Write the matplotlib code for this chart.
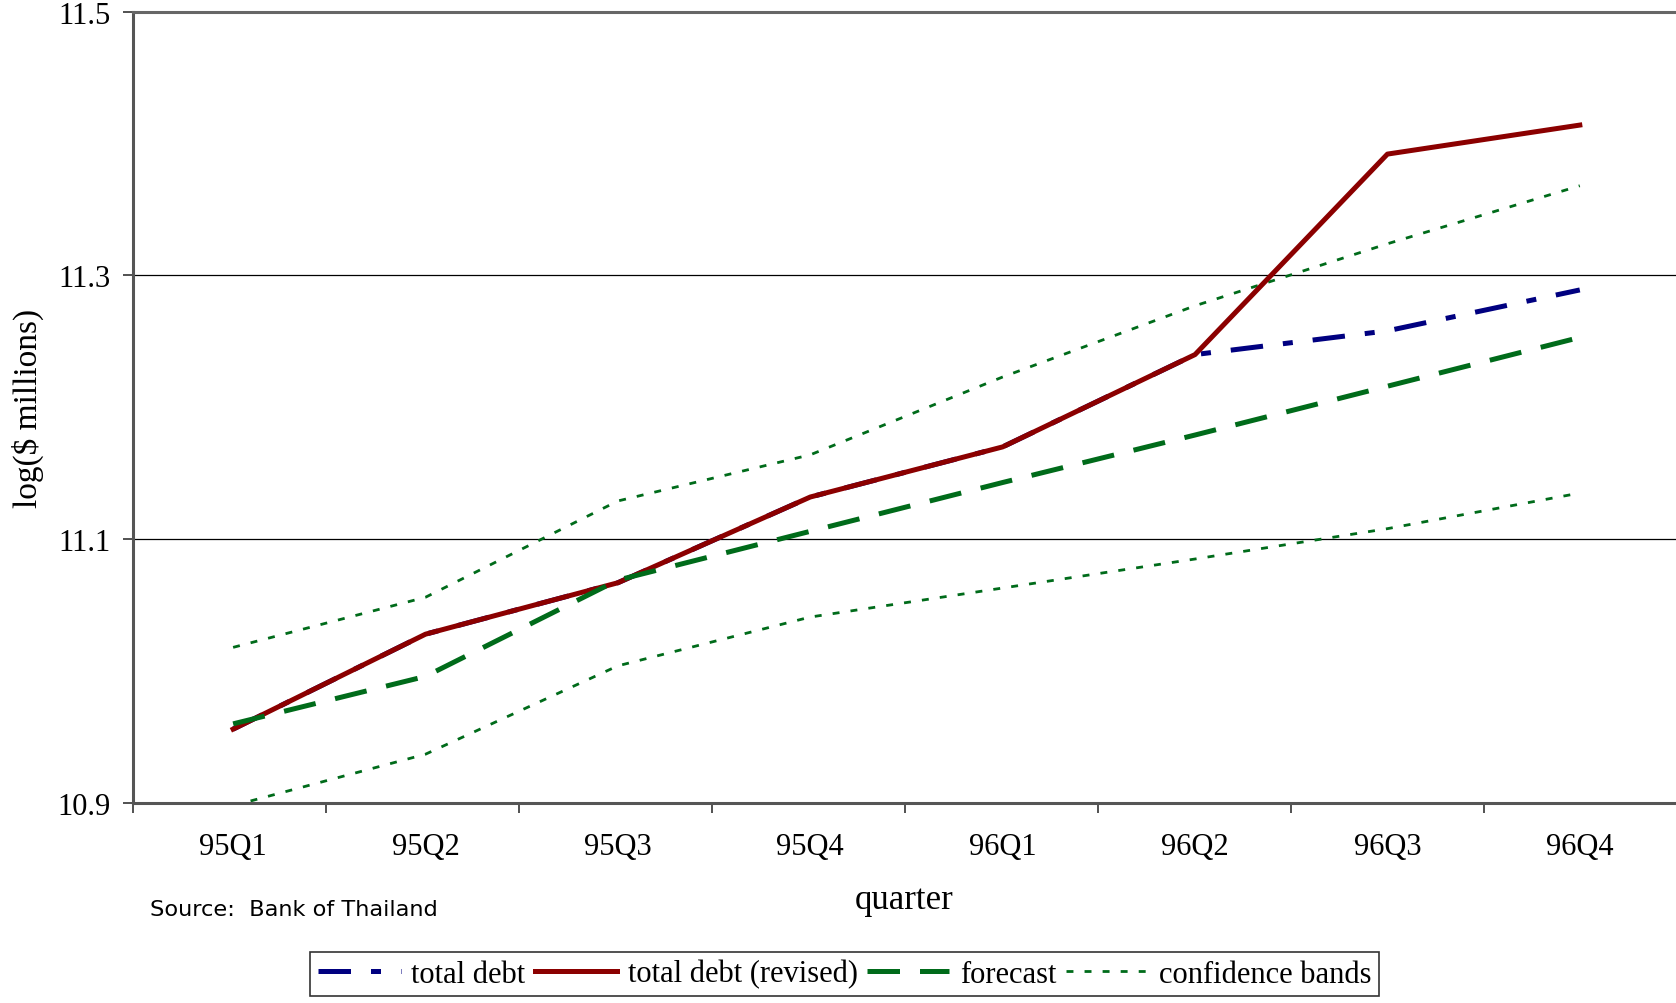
import matplotlib.pyplot as plt
import numpy as np
from matplotlib.ticker import FixedLocator

quarters = ['95Q1', '95Q2', '95Q3', '95Q4', '96Q1', '96Q2', '96Q3', '96Q4']
total_debt = [10.956, 11.028, 11.067, 11.132, 11.170, 11.240, 11.258, 11.289]
total_revised = [10.956, 11.028, 11.067, 11.132, 11.170, 11.240, 11.392, 11.414]
forecast = [10.960, 10.996, 11.069, 11.106, 11.143, 11.179, 11.216, 11.253]
upper_band = [11.018, 11.056, 11.129, 11.164, 11.223, 11.277, 11.324, 11.368]
lower_band = [10.898, 10.937, 11.004, 11.041, 11.063, 11.085, 11.108, 11.135]

navy = '#000080'
dred = '#8b0000'
dgreen = '#006b1a'

plt.rcParams['font.family'] = ['Liberation Serif', 'DejaVu Serif']

fig = plt.figure(figsize=(16.76, 10.04), dpi=100)
ax = fig.add_axes([0.0794, 0.1992, 0.9206, 0.7882])

x = np.arange(len(quarters))

ax.plot(x, upper_band, color=dgreen, lw=2.0, dashes=(2.5, 4), zorder=2,
        label='confidence bands')
ax.plot(x, lower_band, color=dgreen, lw=2.0, dashes=(2.5, 4), zorder=2)
ax.plot(x, total_debt, color=navy, lw=3.6, dashes=(6.5, 4, 2, 4), zorder=3,
        label='total debt')
ax.plot(x, total_revised, color=dred, lw=3.6, zorder=4,
        label='total debt (revised)')
ax.plot(x, forecast, color=dgreen, lw=3.6, dashes=(6.5, 4), zorder=5,
        label='forecast')

ax.set_xlim(-0.52, 7.5)
ax.set_ylim(10.9, 11.5)

ax.set_yticks([10.9, 11.1, 11.3, 11.5])
ax.set_yticklabels(['10.9', '11.1', '11.3', '11.5'])
for yv in [11.1, 11.3]:
    ax.axhline(yv, color='black', lw=0.9, zorder=1)

# category labels in the middle, tick marks on the boundaries
ax.set_xticks(x)
ax.set_xticklabels(quarters)
ax.xaxis.set_minor_locator(FixedLocator(np.arange(-0.52, 7.0, 1.003)))
ax.tick_params(axis='x', which='major', length=0, pad=21, labelsize=22)
ax.tick_params(axis='x', which='minor', length=7, width=1.2, color='#333333',
               direction='out')
ax.tick_params(axis='y', length=7, width=1.2, color='#333333', pad=9,
               labelsize=22)

for s in ['left', 'bottom']:
    ax.spines[s].set_color('#555555')
    ax.spines[s].set_linewidth(2.2)
ax.spines['top'].set_color('#666666')
ax.spines['top'].set_linewidth(2.2)
ax.spines['right'].set_visible(False)

ax.set_xlabel('quarter', fontsize=25, labelpad=16)
ax.set_ylabel('log($ millions)', fontsize=24)
ax.yaxis.set_label_coords(-0.058, 0.5)

fig.text(0.0895, 0.0935, 'Source:  Bank of Thailand', family='DejaVu Sans',
         fontsize=16.2, va='center', ha='left')

h, l = ax.get_legend_handles_labels()
order = [1, 2, 3, 0]
leg = fig.legend([h[i] for i in order], [l[i] for i in order], ncol=4,
                 loc='center', bbox_to_anchor=(0.504, 0.029), fontsize=22,
                 frameon=True, fancybox=False, edgecolor='black',
                 handlelength=2.7, handletextpad=0.35, columnspacing=0.3,
                 borderpad=0.25, borderaxespad=0)
leg.get_frame().set_linewidth(1.2)

plt.savefig('out.png', dpi=100)
